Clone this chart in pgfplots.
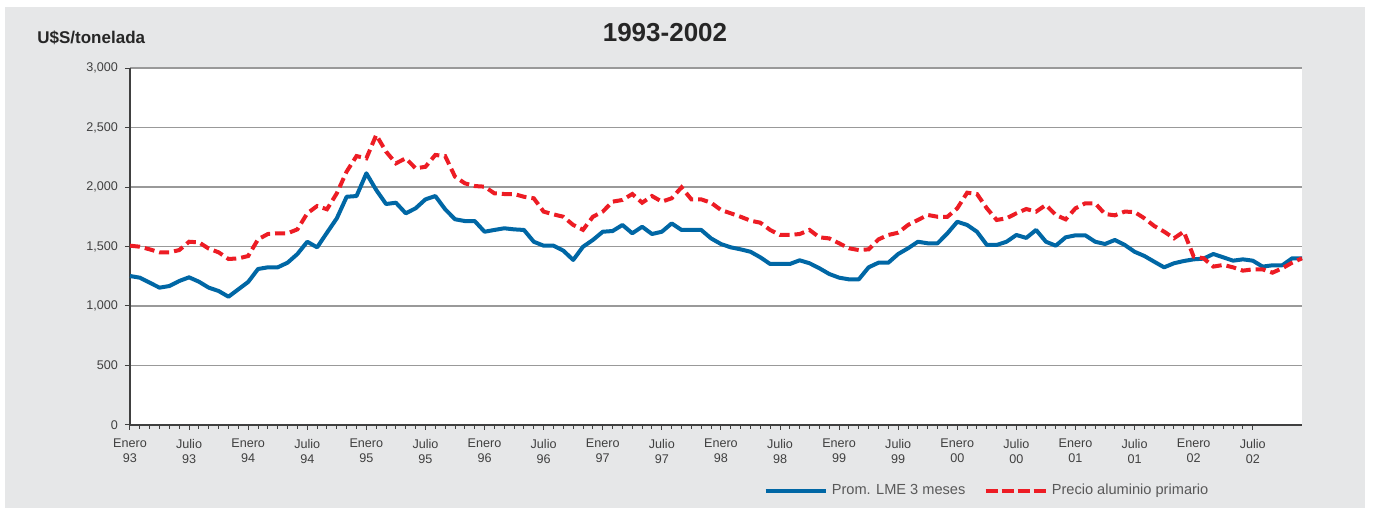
\documentclass[border=0pt]{standalone}
\usepackage{pgfplots}
\pgfplotsset{compat=1.18}
\usepackage{pgfplotstable}
\usepackage{fontspec}
\setmainfont{Liberation Sans}

\definecolor{lmeblue}{HTML}{0067A5}
\definecolor{precred}{HTML}{ED1C24}
\definecolor{panel}{HTML}{E6E7E8}

% m = meses desde enero 1993
\pgfplotstableread{
m lme precio
0 1252 1507
1 1238 1498
2 1196 1476
3 1154 1451
4 1168 1451
5 1210 1470
6 1241 1540
7 1204 1535
8 1154 1482
9 1126 1451
10 1078 1395
11 1140 1400
12 1202 1420
13 1311 1560
14 1325 1605
15 1325 1611
16 1364 1611
17 1437 1644
18 1540 1779
19 1493 1840
20 1616 1813
21 1737 1947
22 1918 2130
23 1924 2260
24 2115 2241
25 1975 2437
26 1857 2297
27 1868 2199
28 1779 2241
29 1821 2157
30 1896 2170
31 1924 2269
32 1813 2260
33 1729 2087
34 1714 2031
35 1714 2008
36 1624 2003
37 1639 1947
38 1653 1941
39 1644 1941
40 1639 1918
41 1540 1905
42 1507 1793
43 1507 1770
44 1465 1750
45 1387 1681
46 1498 1640
47 1555 1750
48 1624 1793
49 1630 1877
50 1681 1891
51 1611 1941
52 1666 1868
53 1605 1924
54 1624 1877
55 1694 1905
56 1639 1997
57 1639 1896
58 1639 1896
59 1568 1868
60 1521 1807
61 1493 1779
62 1476 1750
63 1456 1717
64 1409 1700
65 1353 1639
66 1353 1597
67 1353 1597
68 1384 1605
69 1359 1639
70 1317 1577
71 1269 1568
72 1238 1527
73 1224 1485
74 1224 1470
75 1325 1476
76 1364 1560
77 1364 1597
78 1437 1616
79 1485 1681
80 1540 1723
81 1527 1765
82 1527 1750
83 1611 1750
84 1708 1821
85 1681 1952
86 1624 1941
87 1513 1821
88 1513 1723
89 1540 1737
90 1597 1779
91 1572 1815
92 1639 1793
93 1540 1849
94 1507 1765
95 1577 1728
96 1594 1821
97 1594 1863
98 1540 1863
99 1521 1773
100 1555 1762
101 1513 1793
102 1456 1790
103 1420 1737
104 1372 1672
105 1325 1625
106 1359 1569
107 1378 1625
108 1392 1415
109 1398 1401
110 1437 1331
111 1409 1345
112 1381 1325
113 1392 1297
114 1381 1308
115 1331 1308
116 1342 1280
117 1342 1317
118 1401 1364
119 1401 1401
}\datatable

\begin{document}
\begin{tikzpicture}
% fondo
\fill[white] (-65pt,-41.5pt) rectangle (621.5pt,212.5pt);
\fill[panel] (-62.5pt,-41.5pt) rectangle (617.5pt,209pt);
\node[font=\fontsize{13}{15}\selectfont\bfseries, text=black!85] at (267.5pt,196pt) {1993-2002};
\node[anchor=west, inner sep=0pt, font=\fontsize{8.5}{10}\selectfont\bfseries, text=black!85] at (-46.5pt,193.5pt) {U\$S/tonelada};

\begin{axis}[
  at={(0pt,0pt)}, anchor=south west,
  scale only axis,
  width=586pt, height=178.5pt,
  xmin=0, xmax=119,
  ymin=0, ymax=3000,
  axis x line*=bottom, axis y line*=left,
  axis line style={-, black!75, line width=0.6pt},
  axis background/.style={fill=white},
  ytick={0,500,...,3000},
  xtick={0,6,...,114},
  xticklabels={Enero\\93,Julio\\93,Enero\\94,Julio\\94,Enero\\95,Julio\\95,Enero\\96,Julio\\96,Enero\\97,Julio\\97,Enero\\98,Julio\\98,Enero\\99,Julio\\99,Enero\\00,Julio\\00,Enero\\01,Julio\\01,Enero\\02,Julio\\02},
  minor x tick num=5,
  tick align=outside,
  major tick length=2.5pt, minor tick length=2pt,
  tick style={black!75, line width=0.5pt},
  ymajorgrids,
  grid style={black!40, line width=0.6pt},
  /pgf/number format/.cd, 1000 sep={,}, assume math mode=true,
  /pgfplots/.cd,
  ticklabel style={font=\fontsize{6.3}{7.5}\selectfont, text=black!75},
  xticklabel style={align=center, yshift=-1pt},
  clip=false,
  legend style={at={(0.5401,-0.185)}, anchor=west, draw=none, fill=none,
    inner sep=0pt, font=\fontsize{7.3}{9}\selectfont, text=black!65,
    legend columns=2,
    /tikz/every even column/.append style={column sep=7pt},
    nodes={inner sep=2pt}},
]
\addplot[lmeblue, line width=2pt, line join=round,
  legend image code/.code={\draw[lmeblue, line width=2.2pt] (0pt,0pt) -- (30pt,0pt);}]
  table[x=m, y=lme] {\datatable};
\addlegendentry{Prom. LME 3 meses}
\addplot[precred, line width=2pt, dash pattern=on 5pt off 2.5pt,
  legend image code/.code={\draw[precred, line width=2.2pt, dash pattern=on 6pt off 2pt] (0pt,0pt) -- (30pt,0pt);}]
  table[x=m, y=precio] {\datatable};
\addlegendentry{Precio aluminio primario}
\end{axis}
\end{tikzpicture}
\end{document}
